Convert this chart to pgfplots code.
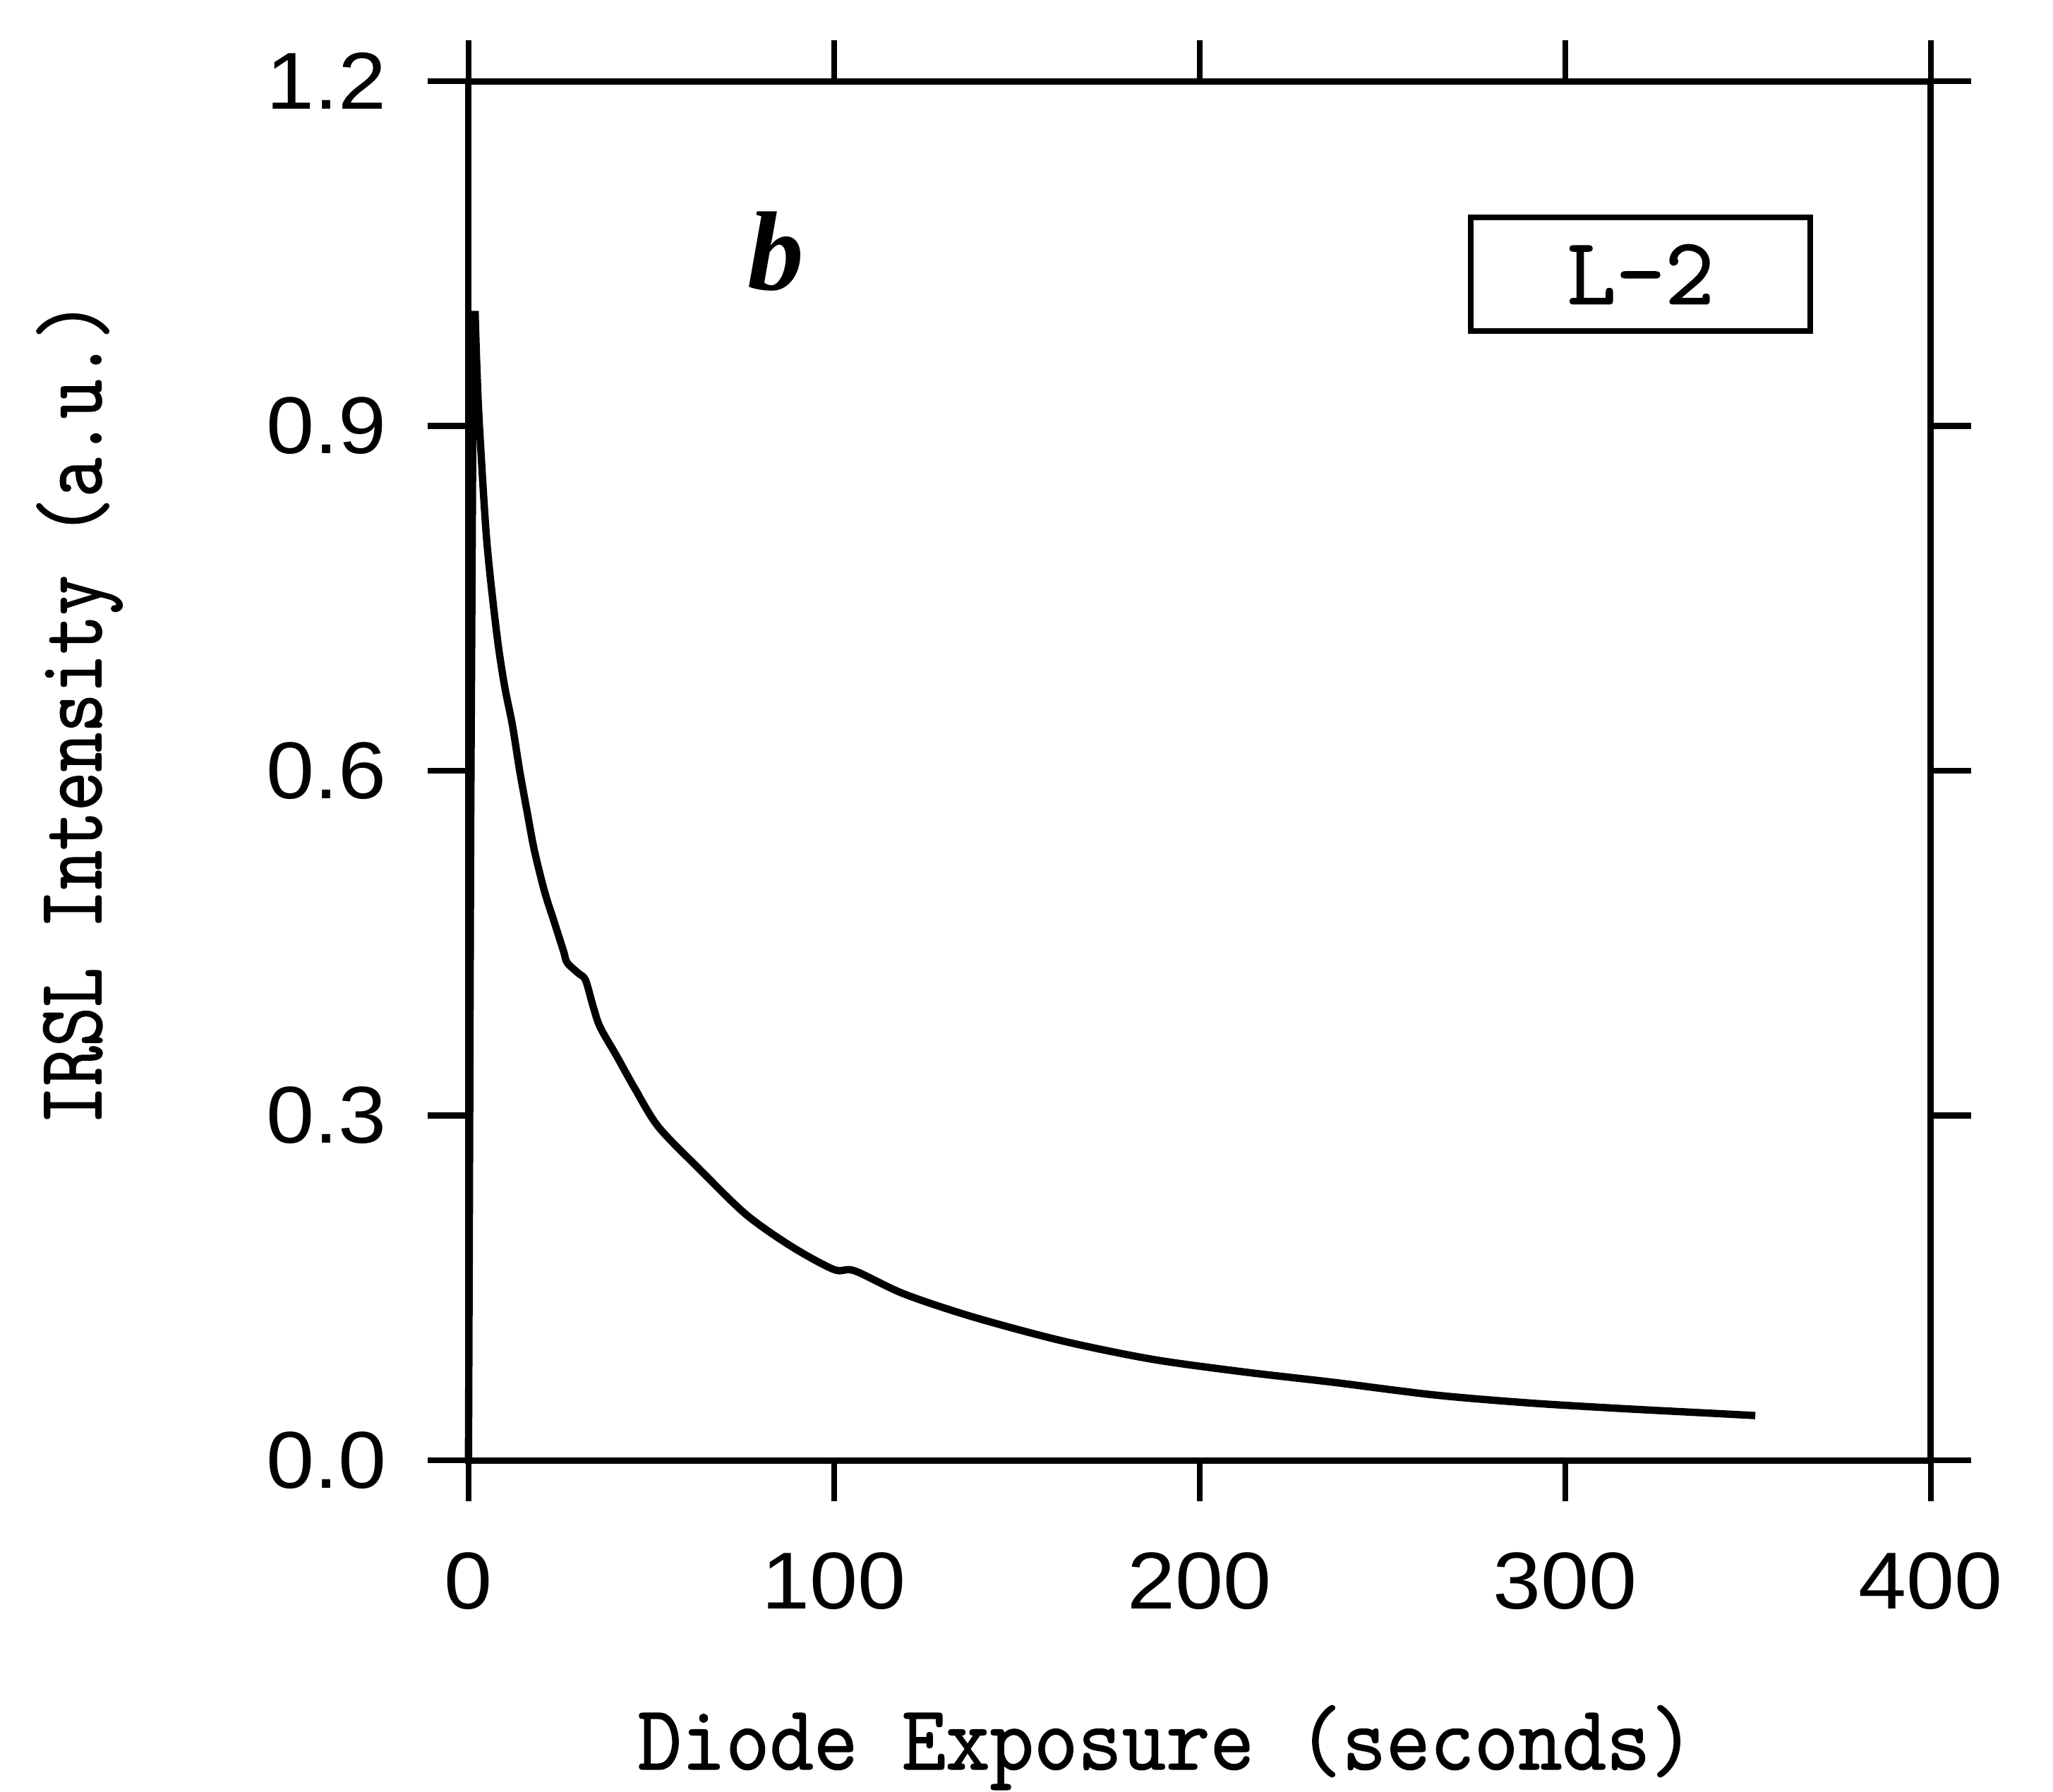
\documentclass[border=0pt]{standalone}
\usepackage{pgfplots}
\pgfplotsset{compat=1.18}
\usepackage{fontspec}
\newfontfamily\tickfont{Liberation Sans}[FakeStretch=1.07]
\newfontfamily\xlabfont{Latin Modern Mono}[FakeStretch=0.93,FakeBold=1.2]
\newfontfamily\ylabfont{Latin Modern Mono}[FakeStretch=0.82,FakeBold=1.2]
\newfontfamily\boxfont{Latin Modern Mono}[FakeBold=1.2]
\newfontfamily\letterfont{Liberation Serif}

\pgfplotstableread{
x y
0 0
0.6 0.55
1.3 0.97
1.8 1.00
}\rise

\pgfplotstableread{
x y
1.8 1.00
2.3 0.95
3.0 0.90
5.0 0.80
7.7 0.72
9.8 0.675
12.0 0.640
14.0 0.600
16.0 0.565
18.0 0.531
20.8 0.495
23.5 0.468
26.0 0.443
27.0 0.433
30.0 0.424
32.0 0.418
34.0 0.396
36.0 0.377
40.5 0.352
45.6 0.323
52.0 0.290
63.3 0.253
75.9 0.214
88.4 0.186
100.0 0.166
105.6 0.165
119.0 0.145
137.8 0.125
162.4 0.104
187.0 0.088
212.0 0.077
236.4 0.068
264.0 0.057
290.0 0.050
316.0 0.045
340.0 0.041
352.0 0.039
}\decay

\begin{document}
\begin{tikzpicture}
\begin{axis}[
  scale only axis,
  width=299pt, height=282pt,
  xmin=0, xmax=400, ymin=0, ymax=1.2,
  xtick={0,100,200,300,400},
  ytick={0,0.3,0.6,0.9,1.2},
  tick align=outside,
  major tick length=8.3pt,
  axis line style={line width=1.3pt},
  every tick/.style={black, line width=1.2pt},
  /pgf/number format/assume math mode=true,
  tick label style={font=\tickfont\fontsize{16.5}{19}\selectfont},
  yticklabel style={xshift=-5pt, /pgf/number format/.cd, fixed, fixed zerofill, precision=1},
  xticklabel style={yshift=-7pt},
  xlabel={\xlabfont\fontsize{18.8}{22}\selectfont Diode Exposure (seconds)},
  ylabel={\ylabfont\fontsize{19}{22}\selectfont IRSL Intensity (a.u.)},
  every axis x label/.style={at={(axis description cs:0.477,-0.224)}, anchor=base, inner sep=0pt},
  every axis y label/.style={at={(axis description cs:-0.266,0.542)}, anchor=center, rotate=90, inner sep=0pt},
  clip=false,
]
\addplot[black, line width=1.5pt, line join=round] table[x=x,y=y]{\rise};
\addplot[black, line width=1.5pt, line join=round, smooth, tension=0.5] table[x=x,y=y]{\decay};
\node[font=\letterfont\bfseries\itshape\fontsize{23}{26}\selectfont] at (axis cs:84,1.052) {b};
\node[draw, line width=1.2pt, minimum width=69.4pt, minimum height=23.2pt, inner sep=0pt,
      font=\boxfont\fontsize{19.5}{22}\selectfont] at (axis cs:320.6,1.032) {L-2};
\end{axis}
\path (current axis.south west) ++(-95.8pt,-67.8pt);
\path (current axis.north east) ++(25pt,16.6pt);
\end{tikzpicture}
\end{document}
